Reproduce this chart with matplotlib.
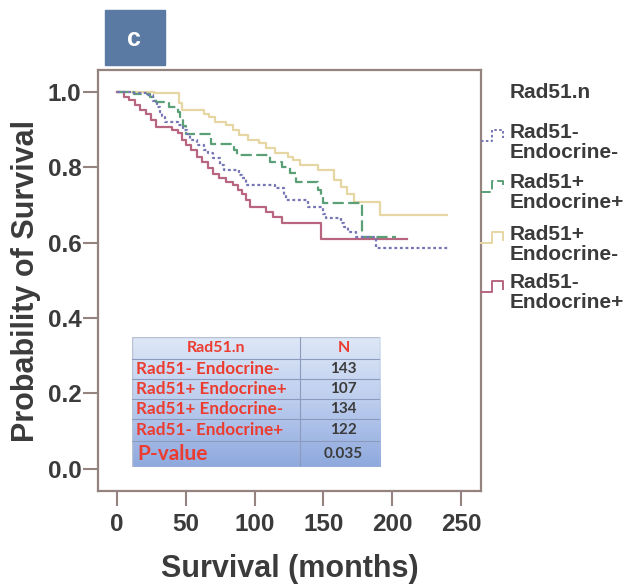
import numpy as np
import matplotlib
matplotlib.use("Agg")
import matplotlib.pyplot as plt
from matplotlib.patches import Rectangle

# Kaplan-Meier curves: step times (months) and survival after each step
t_neg_neg = [0, 10, 22, 26, 29, 31, 33, 35, 44, 48, 51, 53, 58, 63, 66, 70, 75, 78, 89, 91,
             94, 115, 121, 123, 139, 150, 152, 163, 165, 168, 174, 188, 241]
s_neg_neg = [1.0, 0.996, 0.991, 0.975, 0.96, 0.947, 0.935, 0.92, 0.912, 0.899, 0.889, 0.872,
             0.859, 0.845, 0.837, 0.823, 0.806, 0.792, 0.78, 0.77, 0.752, 0.744, 0.726, 0.713,
             0.695, 0.675, 0.664, 0.653, 0.642, 0.629, 0.614, 0.585, 0.585]

t_pos_pos = [0, 12, 24, 28, 38, 44, 46, 48, 50, 68, 85, 87, 111, 120, 126, 130, 146, 148,
             150, 178, 203]
s_pos_pos = [1.0, 0.993, 0.987, 0.973, 0.96, 0.947, 0.93, 0.91, 0.887, 0.861, 0.845, 0.832,
             0.814, 0.801, 0.785, 0.76, 0.739, 0.726, 0.704, 0.614, 0.614]

t_pos_neg = [0, 27, 45, 47, 63, 67, 71, 79, 84, 89, 95, 103, 108, 115, 124, 128, 133, 146,
             158, 163, 167, 172, 191, 240]
s_pos_neg = [1.0, 0.996, 0.97, 0.951, 0.942, 0.934, 0.92, 0.912, 0.898, 0.885, 0.872, 0.863,
             0.85, 0.837, 0.828, 0.819, 0.806, 0.792, 0.766, 0.748, 0.73, 0.708, 0.673, 0.673]

t_neg_pos = [0, 5, 9, 13, 17, 21, 25, 28, 40, 44, 47, 50, 54, 58, 62, 66, 70, 74, 79, 84,
             88, 91, 94, 97, 108, 113, 120, 148, 211]
s_neg_pos = [1.0, 0.987, 0.978, 0.965, 0.952, 0.94, 0.925, 0.907, 0.898, 0.89, 0.872, 0.859,
             0.845, 0.828, 0.814, 0.797, 0.783, 0.77, 0.761, 0.752, 0.74, 0.73, 0.713, 0.693,
             0.68, 0.667, 0.651, 0.609, 0.609]

group_labels = ["Rad51-\nEndocrine-", "Rad51+\nEndocrine+", "Rad51+\nEndocrine-", "Rad51-\nEndocrine+"]
table_groups = ["Rad51- Endocrine-", "Rad51+ Endocrine+", "Rad51+ Endocrine-", "Rad51- Endocrine+"]
table_n = ["143", "107", "134", "122"]
p_value = "0.035"
x_ticks = [0, 50, 100, 150, 200, 250]
y_ticks = [0.0, 0.2, 0.4, 0.6, 0.8, 1.0]

colors = ["#7676b4", "#5a9f76", "#e6d6a4", "#b86680"]
styles = [(0, (1.3, 1.2)), (0, (5, 2)), "-", "-"]
frame_col = "#95837f"
txt_col = "#3b3b3b"

fig = plt.figure(figsize=(6.33, 5.86), dpi=100)
ax = fig.add_axes([98/633, 1-491/586, 383/633, 421/586])

curves = [(t_neg_neg, s_neg_neg), (t_pos_pos, s_pos_pos), (t_pos_neg, s_pos_neg), (t_neg_pos, s_neg_pos)]
# draw in order so the solid lines sit under the broken ones
for i in [2, 3, 1, 0]:
    t, s = curves[i]
    ax.step(t, s, where="post", color=colors[i], lw=1.6, linestyle=styles[i])

ax.set_xlim(-13.8, 264.5)
ax.set_ylim(-0.059, 1.0576)
ax.set_xticks(x_ticks)
ax.set_yticks(y_ticks)
ax.set_yticklabels(["%.1f" % v for v in y_ticks])
for sp in ax.spines.values():
    sp.set_color(frame_col)
    sp.set_linewidth(1.6)
ax.tick_params(length=11, width=1.5, color=frame_col, labelsize=17.5, labelcolor=txt_col)
ax.tick_params(axis="y", pad=1)
ax.tick_params(axis="x", pad=5)
for lab in ax.get_xticklabels() + ax.get_yticklabels():
    lab.set_fontweight("bold")
    lab.set_family("Liberation Sans")

ax.set_xlabel("Survival (months)", fontsize=22, fontweight="bold", color=txt_col, family="Liberation Sans")
ax.xaxis.set_label_coords(0.5, -0.15)
ax.set_ylabel("Probability of Survival", fontsize=22, fontweight="bold", color=txt_col, family="Liberation Sans")
ax.yaxis.set_label_coords(-0.148, 0.5)

# overlay in pixel coordinates for legend, badge
ov = fig.add_axes([0, 0, 1, 1], facecolor="none")
ov.set_xlim(0, 633)
ov.set_ylim(586, 0)
ov.axis("off")

ov.add_patch(Rectangle((105, 10), 60, 55, color="#5b7aa3"))
ov.text(134, 39, "c", color="white", fontsize=18, fontweight="bold", ha="center", va="center",
        family="Liberation Sans")

ov.text(510, 92, "Rad51.n", fontsize=15, fontweight="bold", color=txt_col, va="center",
        family="Liberation Sans")
leg_y = [132, 183, 234, 283]
for i, lab in enumerate(group_labels):
    y0 = leg_y[i]
    lo, hi = y0 + 9, y0 - 2
    ov.plot([481, 492, 492, 503, 503], [lo, lo, hi, hi, lo - 3], color=colors[i], lw=1.4,
            linestyle=styles[i])
    l1, l2 = lab.split("\n")
    ov.text(510, y0, l1, fontsize=15, fontweight="bold", color=txt_col, va="center",
            family="Liberation Sans")
    ov.text(510, y0 + 20, l2, fontsize=15, fontweight="bold", color=txt_col, va="center",
            family="Liberation Sans")

# summary table
tb = fig.add_axes([132/633, 1-467/586, 248/633, 130/586])
tb.set_xlim(0, 248)
tb.set_ylim(130, 0)
tb.axis("off")
grad = np.linspace(0, 1, 64).reshape(-1, 1)
cmap = matplotlib.colors.LinearSegmentedColormap.from_list("tb", ["#dde7f6", "#bccdee", "#8fa9de"])
tb.imshow(grad, cmap=cmap, extent=[0, 248, 130, 0], aspect="auto")
rows = [0, 22, 42, 62, 82, 104, 130]
for y in rows[1:-1]:
    tb.plot([0, 248], [y, y], color="#8c9bbd", lw=0.8)
tb.plot([168, 168], [0, 130], color="#8c9bbd", lw=0.8)
tb.add_patch(Rectangle((0, 0), 248, 130, fill=False, ec="#b9c2d3", lw=1))
red = "#ec3b2f"
tb.text(84, 11, "Rad51.n", color=red, fontsize=11.5, fontweight="bold", ha="center", va="center", family="Lato")
tb.text(212, 11, "N", color=red, fontsize=11.5, fontweight="bold", ha="center", va="center", family="Lato")
for i in range(4):
    yc = (rows[i+1] + rows[i+2]) / 2
    tb.text(4, yc, table_groups[i], color=red, fontsize=12.3, fontweight="bold", va="center", family="Lato")
    tb.text(211, yc, table_n[i], color=txt_col, fontsize=11, fontweight="bold", ha="center", va="center",
            family="Lato")
tb.text(5, 117, "P-value", color=red, fontsize=15, fontweight="bold", va="center", family="Lato")
tb.text(211, 117, p_value, color=txt_col, fontsize=11, fontweight="bold", ha="center", va="center",
        family="Lato")

fig.savefig("out.png", dpi=100)
